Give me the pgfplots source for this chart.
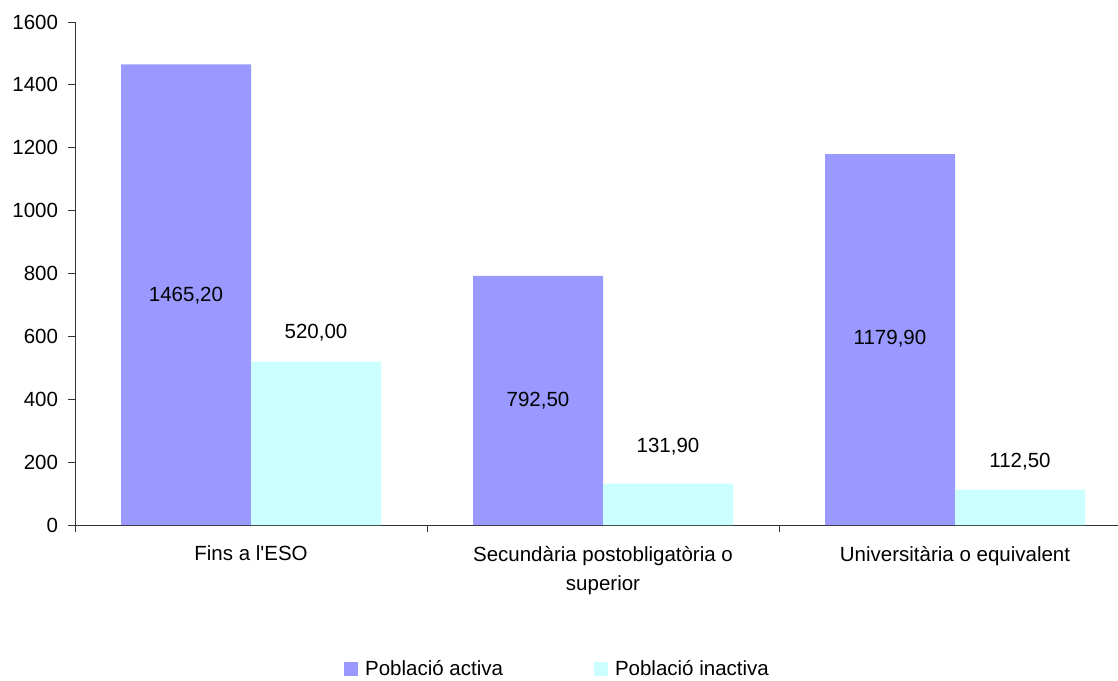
\documentclass[border=0pt]{standalone}
\usepackage{pgfplots}
\pgfplotsset{compat=1.18}
\usepackage{fontspec}
\setmainfont{Liberation Sans}
\definecolor{activa}{HTML}{9999FF}
\definecolor{inactiva}{HTML}{CCFFFF}
\begin{document}
\fontsize{20.5}{29}\selectfont
\begin{tikzpicture}
\useasboundingbox (0,0) rectangle (1118pt,680pt);
\begin{axis}[
  at={(75pt,155pt)}, anchor=south west,
  scale only axis, width=1043pt, height=503pt,
  xmin=-0.5, xmax=2.463, ymin=0, ymax=1600,
  ybar=0pt, bar width=130pt,
  axis lines*=left,
  axis line style={black!80, line width=1pt},
  tick align=outside,
  major tick length=7pt,
  tick style={black!80, line width=0.8pt},
  ytick={0,200,...,1600},
  xtick={-0.5,0.5,1.5}, xticklabels={},
  extra x ticks={0,1,2},
  extra x tick labels={Fins a l\textquotesingle ESO, {Secundària postobligatòria o\\superior}, Universitària o equivalent},
  extra x tick style={major tick length=0pt, xticklabel style={align=center, yshift=-14pt}},
  /pgf/number format/assume math mode=true,
  yticklabel style={/pgf/number format/1000 sep={}, xshift=-3pt},
  scaled y ticks=false,
  legend style={draw=none, fill=none, at={(rel axis cs:0.465,-0.288)}, anchor=center,
    legend columns=2, /tikz/every even column/.append style={column sep=84pt},
    nodes={inner ysep=3pt, inner xsep=7pt}},
  legend image code/.code={\fill[#1] (0pt,-6pt) rectangle (14pt,8pt);},
  clip=false,
]
\addplot[fill=activa, draw=none] coordinates {(0,1465.2) (1,792.5) (2,1179.9)};
\addplot[fill=inactiva, draw=none] coordinates {(0,520) (1,131.9) (2,112.5)};
\legend{Població activa, Població inactiva}
\node at (axis cs:-0.1847,728) {1465,20};
\node at (axis cs:0.8153,394) {792,50};
\node at (axis cs:1.8153,592) {1179,90};
\node at (axis cs:0.1847,611) {520,00};
\node at (axis cs:1.1847,248) {131,90};
\node at (axis cs:2.1847,200) {112,50};
\end{axis}
\end{tikzpicture}
\end{document}
